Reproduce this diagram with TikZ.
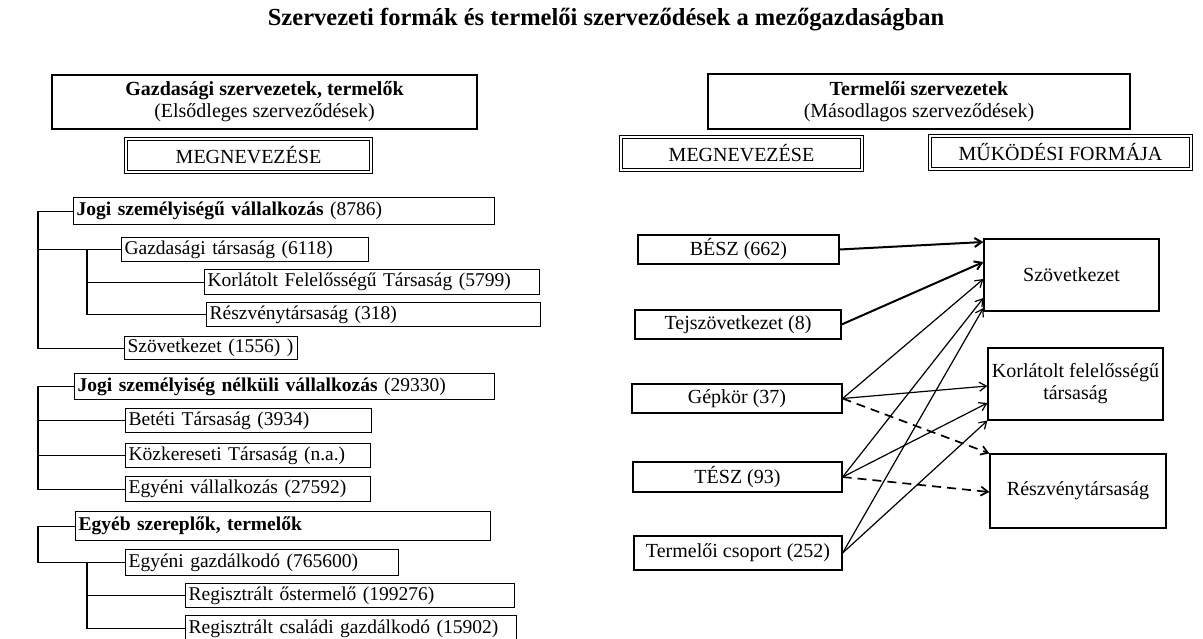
\documentclass[tikz,border=0pt]{standalone}
\usepackage{fontspec}
\setmainfont{Liberation Serif}
\usetikzlibrary{positioning,arrows.meta}

\begin{document}
\begin{tikzpicture}
        [
    x=1pt, y=-1pt,
    basic/.style={draw, text centered, font=\fontsize{20}{22}\selectfont},
    head/.style={basic, line width=2.2pt, align=center, inner sep=0pt},
    dbl/.style={basic, double, double distance=1.8pt, line width=1.3pt, inner sep=0pt},
    rect/.style={basic, line width=1.2pt, inner sep=0pt, align=center},
    elem/.style={draw, line width=1.2pt, anchor=north west, inner xsep=3pt, inner ysep=0pt, align=left, font=\fontsize{19.5}{22}\selectfont},
    ag/.style={line width=1.2pt},
    vastag/.style={->, line width=2pt},
    nyil/.style={->, line width=1.2pt},
    szagg/.style={->, line width=1.7pt, dash pattern=on 9pt off 6pt},
    >={Straight Barb[length=7pt,width=9pt]}
    ]
    \useasboundingbox (0,0) rectangle (1203,638);

    % Cim
    \node [anchor=base, font=\bfseries\fontsize{24.5}{28}\selectfont] (cim) at (606,25) {Szervezeti formák és termelői szerveződések a mezőgazdaságban};
    % Fejlecek
    \node [head, minimum width=425pt, minimum height=54pt] (elsod) at (264.5,102) {\textbf{Gazdasági szervezetek, termelők}\\(Elsődleges szerveződések)};
    \node [dbl, minimum width=245pt, minimum height=33pt] (megn1) at (248.5,155.5) {MEGNEVEZÉSE};
    \node [head, minimum width=422pt, minimum height=55pt] (masod) at (919,101.5) {\textbf{Termelői szervezetek}\\(Másodlagos szerveződések)};
    \node [dbl, minimum width=241pt, minimum height=33pt] (megn2) at (741.5,153.5) {MEGNEVEZÉSE};
    \node [dbl, minimum width=261pt, minimum height=33pt] (mukod) at (1060.5,152.5) {MŰKÖDÉSI FORMÁJA};

    \coordinate (t1) at (38,0);
    \coordinate (t2) at (87,0);
    % Jogi szemelyisegu vallalkozasok
    \node [elem, text width=415pt, minimum height=27pt] (jogi) at (73,197) {\textbf{Jogi személyiségű vállalkozás} (8786)};
    \node [elem, text width=241pt, minimum height=24pt] (gt) at (121,237) {Gazdasági társaság (6118)};
    \node [elem, text width=329pt, minimum height=25pt] (kft1) at (204,269) {Korlátolt Felelősségű Társaság (5799)};
    \node [elem, text width=328pt, minimum height=24pt] (rt1) at (206,302) {Részvénytársaság (318)};
    \node [elem, text width=167pt, minimum height=23pt] (szov1) at (124,336) {Szövetkezet (1556)~)};
    \draw [ag] (jogi.west) -- (jogi.west -| t1) |- (szov1.west);
    \draw [ag] (gt.west) -- (gt.west -| t1);
    \draw [ag] (gt.west -| t2) |- (rt1.west);
    \draw [ag] (kft1.west) -- (kft1.west -| t2);
    % Jogi szemelyiseg nelkuli vallalkozasok
    \node [elem, text width=414pt, minimum height=26pt] (jnk) at (74,373) {\textbf{Jogi személyiség nélküli vállalkozás} (29330)};
    \node [elem, text width=240pt, minimum height=24pt] (bt) at (125,408) {Betéti Társaság (3934)};
    \node [elem, text width=239pt, minimum height=24pt] (kkt) at (125,443) {Közkereseti Társaság (n.a.)};
    \node [elem, text width=239pt, minimum height=25pt] (ev) at (125,476) {Egyéni vállalkozás (27592)};
    \draw [ag] (jnk.west) -- (jnk.west -| t1) |- (ev.west);
    \draw [ag] (bt.west) -- (bt.west -| t1);
    \draw [ag] (kkt.west) -- (kkt.west -| t1);
    % Egyeb szereplok
    \node [elem, text width=409pt, minimum height=29pt] (egyeb) at (75,511) {\textbf{Egyéb szereplők, termelők}};
    \node [elem, text width=267pt, minimum height=26pt] (eg) at (125,549) {Egyéni gazdálkodó (765600)};
    \node [elem, text width=323pt, minimum height=24pt] (ot) at (185,583) {Regisztrált őstermelő (199276)};
    \node [elem, text width=325pt, minimum height=26pt] (csg) at (185,615) {Regisztrált családi gazdálkodó (15902)};
    \draw [ag] (egyeb.west) -- (egyeb.west -| t1) |- (eg.west);
    \draw [ag] (eg.west -| t2) |- (csg.west);
    \draw [ag] (ot.west) -- (ot.west -| t2);

    % Termeloi szervezetek
    \node [rect, minimum width=201pt, minimum height=29pt] (besz) at (738.5,249.5) {BÉSZ (662)};
    \node [rect, minimum width=206pt, minimum height=29pt] (tejsz) at (738,324.5) {Tejszövetkezet (8)};
    \node [rect, minimum width=210pt, minimum height=29pt] (gepk) at (737,398.5) {Gépkör (37)};
    \node [rect, minimum width=209pt, minimum height=30pt] (tesz) at (737.5,477) {TÉSZ (93)};
    \node [rect, minimum width=208pt, minimum height=34pt] (csop) at (738,553) {Termelői csoport (252)};
    % Mukodesi formak
    \node [rect, minimum width=175pt, minimum height=72pt] (szov2) at (1071.5,275) {Szövetkezet};
    \node [rect, minimum width=175pt, minimum height=72pt] (kft2) at (1075.5,384) {Korlátolt felelősségű\\társaság};
    \node [rect, minimum width=176pt, minimum height=74pt] (rt2) at (1078,491) {Részvénytársaság};
    \draw [vastag] (besz.east) -- ([yshift=33pt]szov2.west);
    \draw [vastag] (tejsz.east) -- ([yshift=13pt]szov2.west);
    \draw [nyil] (gepk.east) -- ([yshift=-4pt]szov2.west);
    \draw [nyil] (gepk.east) -- ([yshift=-2pt]kft2.west);
    \draw [szagg] (gepk.east) -- (rt2.north west);
    \draw [nyil] (tesz.east) -- ([yshift=-23pt]szov2.west);
    \draw [nyil] (tesz.east) -- ([yshift=-19pt]kft2.west);
    \draw [szagg] (tesz.east) -- ([yshift=-1pt]rt2.west);
    \draw [nyil] (csop.east) -- ([yshift=-33pt]szov2.west);
    \draw [nyil] (csop.east) -- (kft2.south west);
\end{tikzpicture}
\end{document}
